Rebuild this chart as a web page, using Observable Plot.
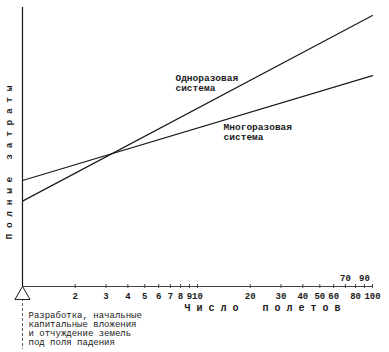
<!DOCTYPE html>
<html>
<head>
<meta charset="utf-8">
<script src="https://cdn.jsdelivr.net/npm/d3@7"></script>
<script src="https://cdn.jsdelivr.net/npm/@observablehq/plot@0.6"></script>
<style>
  html, body { margin: 0; padding: 0; background: #fff; }
  #chart svg { display: block; }
  #chart svg text { font-family: "Liberation Mono", "DejaVu Sans Mono", monospace; }
</style>
</head>
<body>
<div id="chart"></div>
<script>
// Number of flights (log axis) and total costs (arbitrary units)
const flights = [1, 100];
const expendableCost = [30.6, 97.1];   // Одноразовая система
const reusableCost = [38, 75.6];       // Многоразовая система

const tickValues = [2, 3, 4, 5, 6, 7, 8, 9, 10, 20, 30, 40, 50, 60, 70, 80, 90, 100];
const tickLabelsLow = [2, 3, 4, 5, 6, 7, 8, 9, 10, 20, 30, 40, 50, 60, 80, 100];
const tickLabelsHigh = [70, 90];

const yTitle = "П о л н ы е   з а т р а т ы";
const xTitle = "Ч и с л о    п о л е т о в";
const originNote = "Разработка, начальные\nкапитальные вложения\nи отчуждение земель\nпод поля падения";

const seriesLabels = [
  {x: 7.48, y: 76, text: "Одноразовая\nсистема"},
  {x: 14.1, y: 58.4, text: "Многоразовая\nсистема"}
];

const expendable = flights.map((f, i) => ({x: f, y: expendableCost[i]}));
const reusable = flights.map((f, i) => ({x: f, y: reusableCost[i]}));

const font = "Liberation Mono, DejaVu Sans Mono, monospace";
const ink = "#1a1a1a";

const chart = Plot.plot({
  width: 389,
  height: 352,
  margin: 0,
  style: {background: "#fff", color: ink},
  x: {type: "log", domain: [1, 100], range: [22, 372], axis: null},
  y: {domain: [0, 100], range: [286, 7], axis: null},
  marks: [
    // y axis
    Plot.ruleX([1], {y1: 0, y2: 100, stroke: ink, strokeWidth: 1.2}),
    // dotted continuation below origin
    Plot.ruleX([1], {y1: -4.3, y2: -22.5, stroke: "#555", strokeWidth: 1, strokeDasharray: "3,2"}),
    // x axis
    Plot.ruleY([0], {x1: 1, x2: 100, stroke: "#444", strokeWidth: 1}),
    Plot.ruleX(tickValues, {y1: -0.7, y2: 0.7, stroke: "#444", strokeWidth: 1}),
    Plot.text(tickLabelsLow, {x: d => d, y: 0, dy: 10, text: d => String(d), fontFamily: font, fontSize: 9, fontWeight: "bold", fill: ink}),
    Plot.text(tickLabelsHigh, {x: d => d, y: 0, dy: -8, text: d => String(d), fontFamily: font, fontSize: 9, fontWeight: "bold", fill: ink}),
    // origin triangle
    Plot.dot([{x: 1, y: 0}], {x: "x", y: "y", symbol: "triangle", r: 5.6, dy: 8.6, fill: "#fff", stroke: ink, strokeWidth: 1}),
    // cost lines
    Plot.line(expendable, {x: "x", y: "y", stroke: ink, strokeWidth: 1.2}),
    Plot.line(reusable, {x: "x", y: "y", stroke: ink, strokeWidth: 1.2}),
    // series labels
    Plot.text(seriesLabels, {x: "x", y: "y", text: "text", textAnchor: "start", lineAnchor: "top", lineHeight: 1, fontFamily: font, fontSize: 9.5, fontWeight: "bold", fill: ink}),
    // axis titles
    Plot.text([yTitle], {frameAnchor: "top-left", dx: 8, dy: 162, rotate: -90, textAnchor: "middle", lineAnchor: "middle", text: d => d, fontFamily: font, fontSize: 9.5, fontWeight: "bold", fill: ink}),
    Plot.text([xTitle], {frameAnchor: "top-left", dx: 262, dy: 307, textAnchor: "middle", lineAnchor: "middle", text: d => d, fontFamily: font, fontSize: 10, fontWeight: "bold", fill: ink}),
    // origin note
    Plot.text([originNote], {x: 1, y: -8.96, dx: 6, text: d => d, textAnchor: "start", lineAnchor: "top", lineHeight: 1, fontFamily: font, fontSize: 9, fill: ink})
  ]
});

document.getElementById("chart").appendChild(chart);
</script>
</body>
</html>
